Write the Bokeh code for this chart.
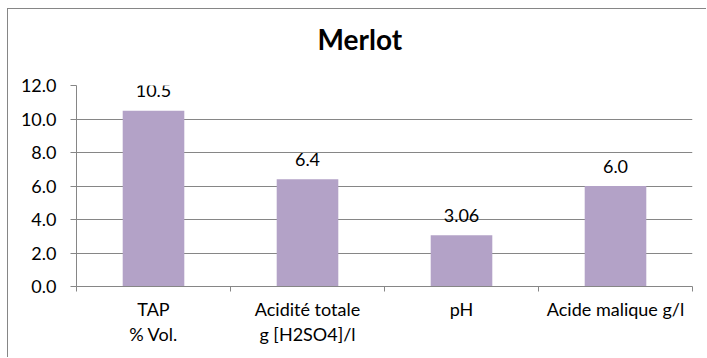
from bokeh.plotting import figure
from bokeh.models import ColumnDataSource, FixedTicker, Range1d, Title
from bokeh.embed import file_html
from bokeh.resources import INLINE

categories = ["TAP\n% Vol.", "Acidité totale\ng [H2SO4]/l", "pH", "Acide malique g/l"]
values = [10.5, 6.4, 3.06, 6.0]
value_labels = ["10.5", "6.4", "3.06", "6.0"]
y_ticks = [0, 2, 4, 6, 8, 10, 12]
title_text = "Merlot"

FONT = "Lato"
GRID = "#868686"
BAR = "#B3A2C7"

positions = [i + 0.5 for i in range(len(categories))]
source = ColumnDataSource(dict(x=positions, top=values, label=value_labels))

p = figure(width=699, height=349, output_backend="svg", toolbar_location=None,
           x_range=Range1d(0, len(categories)), y_range=Range1d(0, 12),
           min_border_left=68, min_border_right=15, min_border_top=76, min_border_bottom=72)
p.outline_line_color = None
p.styles = {"margin-left": "7px", "margin-top": "8px",
            "border-left": "1px solid #868686", "border-top": "1px solid #868686"}

# empty spacer between the frame and the title, then the title itself
p.add_layout(Title(text=" ", text_font_size="1px", standoff=22), "above")
p.add_layout(Title(text=title_text, align="left", offset=241, standoff=10, text_font=FONT,
                   text_font_size="28px", text_font_style="bold", text_color="#000000"), "above")

p.vbar(x="x", top="top", width=0.4, bottom=0, source=source, fill_color=BAR, line_color=None)
p.text(x="x", y="top", text="label", source=source, text_align="center",
       text_baseline="alphabetic", y_offset=-20, text_font_size="18px",
       text_color="#000000", text_font={"value": FONT})

# x axis
xa = p.xaxis[0]
xa.ticker = FixedTicker(ticks=positions, minor_ticks=list(range(len(categories) + 1)))
xa.major_label_overrides = {pos: c for pos, c in zip(positions, categories)}
xa.major_tick_out = 0
xa.major_tick_in = 0
xa.minor_tick_out = 5
xa.minor_tick_in = 0
xa.minor_tick_line_color = GRID
xa.axis_line_color = GRID
xa.major_label_standoff = 6
xa.major_label_text_font = FONT
xa.major_label_text_font_size = "18px"
xa.major_label_text_color = "#000000"
xa.major_label_text_line_height = 1.15

# y axis
ya = p.yaxis[0]
ya.ticker = FixedTicker(ticks=y_ticks)
ya.major_label_overrides = {t: f"{t:.1f}" for t in y_ticks}
ya.major_tick_out = 6
ya.major_tick_in = 0
ya.minor_tick_line_color = None
ya.major_tick_line_color = GRID
ya.axis_line_color = GRID
ya.major_label_standoff = 14
ya.major_label_text_font = FONT
ya.major_label_text_font_size = "18px"
ya.major_label_text_color = "#000000"

p.xgrid.grid_line_color = None
p.ygrid.grid_line_color = GRID
p.ygrid.grid_line_width = 1

open("out.html", "w").write(file_html(p, INLINE))
